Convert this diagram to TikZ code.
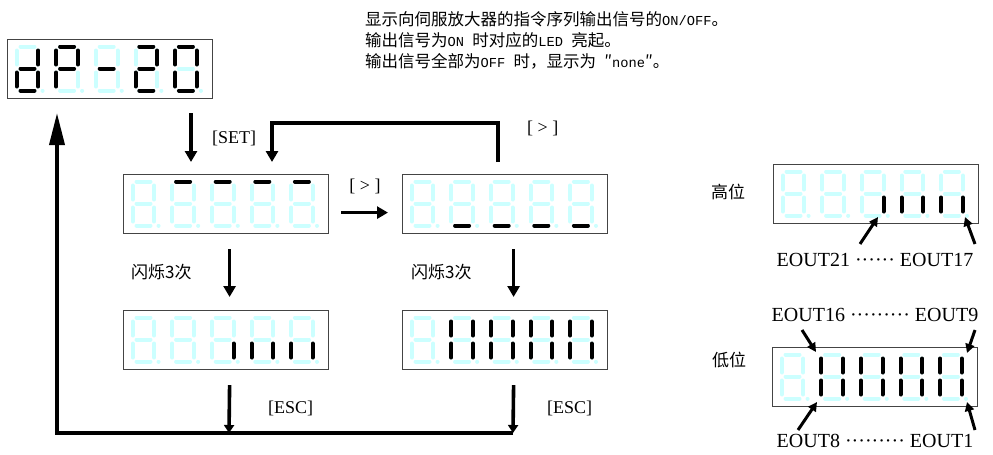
\documentclass[tikz,border=0pt]{standalone}
\usepackage{fontspec}
\setmainfont{Liberation Serif}
\newfontfamily\cjk{Noto Sans CJK SC}
\newfontfamily\halfw{Liberation Mono}
\usetikzlibrary{arrows.meta,positioning,calc}
\definecolor{segoff}{HTML}{CCFFFF}
\definecolor{boxline}{HTML}{444444}
\tikzset{
  dispbox/.style={draw=boxline, line width=1.2pt, minimum width=205pt, minimum height=59pt, inner sep=0pt, anchor=north west},
  seg/.style={line width=4pt, line cap=round},
  lseg a/.style={insert path={(-7,7.5)--(7,7.5)}},
  lseg b/.style={insert path={(10.8,11.5)--(10.8,25.5)}},
  lseg c/.style={insert path={(10.8,33.5)--(10.8,47.5)}},
  lseg d/.style={insert path={(-7,51.5)--(7,51.5)}},
  lseg e/.style={insert path={(-10.8,33.5)--(-10.8,47.5)}},
  lseg f/.style={insert path={(-10.8,11.5)--(-10.8,25.5)}},
  lseg g/.style={insert path={(-7,29.5)--(7,29.5)}},
  lseg p/.style={insert path={(15,51.5)--(15.1,51.5)}},
  lseg n/.style={},
  flow/.style={line width=3.6pt, -{Triangle[length=11pt,width=12pt]}},
  flow small/.style={line width=3.6pt, -{Triangle[length=8pt,width=10pt]}},
  flow big/.style={line width=3.6pt, line join=miter, -{Triangle[length=32pt,width=15pt]}},
  ptr/.style={line width=3pt, -{Triangle[length=9pt,width=9pt]}},
  lbl/.style={font=\fontsize{18}{20}\selectfont, inner sep=0pt},
  cjklbl/.style={font=\cjk\fontsize{17}{20}\selectfont, inner sep=0pt},
  eout/.style={font=\fontsize{20}{22}\selectfont, inner sep=0pt},
  note/.style={font=\cjk\fontsize{16.5}{18}\selectfont, inner sep=0pt, anchor=west},
}
\newcommand{\hw}[1]{{\halfw\fontsize{13.7}{16}\selectfont #1}}
% five digits, each given as its list of lit segments
\newcommand{\ledpanel}[2]{%
  \foreach \lit [count=\k from 0] in {#2} {
    \begin{scope}[shift={($(#1.north west)+(20.5+39.6*\k,0)$)}]
      \foreach \s in {a,b,c,d,e,f,g,p} {\edef\doseg{\noexpand\draw[seg, segoff, lseg \s];}\doseg}
      \foreach \s in \lit {\edef\doseg{\noexpand\draw[seg, black, lseg \s];}\doseg}
    \end{scope}
  }
}
\begin{document}
\begin{tikzpicture}[x=1pt, y=-1pt]
  \useasboundingbox (0,0) rectangle (993,455);
  % displays
  \node[dispbox] (A) at (7,39) {};
  \node[dispbox] (B) at (123,174) {};
  \node[dispbox] (C) at (402,174) {};
  \node[dispbox] (D) at (123,310) {};
  \node[dispbox] (E) at (402,310) {};
  \node[dispbox] (H) at (773,164) {};
  \node[dispbox] (L) at (772,347) {};
  \ledpanel{A}{{b,c,d,e,g},{a,b,e,f,g},{g},{a,b,d,e,g},{a,b,c,d,e,f}}
  \ledpanel{B}{{n},{a},{a},{a},{a}}
  \ledpanel{C}{{n},{d},{d},{d},{d}}
  \ledpanel{D}{{n},{n},{c},{c,e},{c,e}}
  \ledpanel{E}{{n},{b,c,e,f},{b,c,e,f},{b,c,e,f},{b,c,e,f}}
  \ledpanel{H}{{n},{n},{c},{c,e},{c,e}}
  \ledpanel{L}{{n},{b,c,e,f},{b,c,e,f},{b,c,e,f},{b,c,e,f}}

  % notes
  \node[note] (note1) at (365,19) {显示向伺服放大器的指令序列输出信号的\hw{ON/OFF}。};
  \node[note] (note2) at (365,40) {输出信号为\hw{ON }时对应的\hw{LED }亮起。};
  \node[note] (note3) at (365,61) {输出信号全部为\hw{OFF }时，显示为\hw{ }″\hw{none}″。};

  % key labels
  \node[lbl, anchor=west] (setlbl) at (212,138) {[SET]};
  \node[lbl] (nextlbl) at (365,186) {[ > ]};
  \node[lbl, anchor=west] (looplbl) at (527,128) {[ > ]};
  \node[cjklbl, anchor=west] (blink1) at (131,272) {闪烁3次};
  \node[cjklbl, anchor=west] (blink2) at (411,272) {闪烁3次};
  \node[lbl, anchor=west] (esc1) at (268,408) {[ESC]};
  \node[lbl, anchor=west] (esc2) at (547,408) {[ESC]};

  % flow
  \coordinate (setT) at (191,113);
  \draw[flow, shorten >=12pt] (setT) -- (setT |- B.north);
  \coordinate (loopR) at (498,162);
  \coordinate (loopL) at (272,162);
  \draw[flow] (loopR) -- ++(0,-39) -| (loopL);
  \draw[flow] ([shift={(12,8.5)}]B.east) -- ([shift={(-14,8.5)}]C.west);
  \draw[flow] ([shift={(3.5,15)}]B.south) -- ([shift={(3.5,-13)}]D.north);
  \draw[flow] ([shift={(8.5,15)}]C.south) -- ([shift={(8.5,-13)}]E.north);
  \coordinate (bl) at (57,433);
  \coordinate (bd) at (229,433);
  \coordinate (be) at (513,433);
  \coordinate (up) at (57,113);
  \draw[flow small] ([shift={(3.5,15)}]D.south) -- (bd);
  \draw[flow small] ([shift={(8.5,15)}]E.south) -- (be);
  \draw[flow big] (be) -- (bl) -- (up);

  % bit labels
  \node[cjklbl] (hi) at (728,192) {高位};
  \node[cjklbl] (lo) at (729,360) {低位};
  \node[eout] (hiTxt) at (875,260) {EOUT21 ······ EOUT17};
  \node[eout] (loTop) at (875,315) {EOUT16 ········· EOUT9};
  \node[eout] (loBot) at (875,441) {EOUT8 ········· EOUT1};
  \coordinate (h21s) at (860,244); \coordinate (h21) at (878,217);
  \coordinate (h17s) at (975,244); \coordinate (h17) at (965,217);
  \coordinate (l16s) at (802,330); \coordinate (l16) at (816,352);
  \coordinate (l9s) at (975,330);  \coordinate (l9) at (967,353);
  \coordinate (l8s) at (798,430);  \coordinate (l8) at (817,402);
  \coordinate (l1s) at (975,430);  \coordinate (l1) at (967,402);
  \draw[ptr] (h21s) -- (h21);
  \draw[ptr] (h17s) -- (h17);
  \draw[ptr] (l16s) -- (l16);
  \draw[ptr] (l9s) -- (l9);
  \draw[ptr] (l8s) -- (l8);
  \draw[ptr] (l1s) -- (l1);
\end{tikzpicture}
\end{document}
